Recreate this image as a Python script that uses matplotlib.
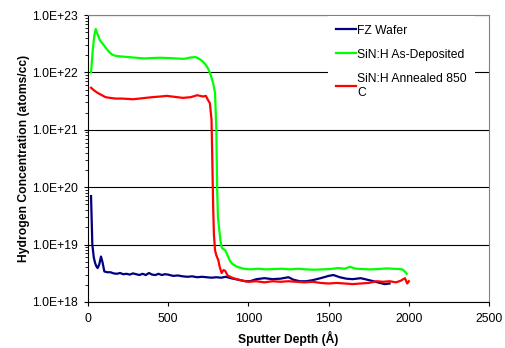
import numpy as np
import matplotlib.pyplot as plt
from matplotlib.ticker import FixedLocator, FuncFormatter, LogLocator, NullFormatter

plt.rcParams["font.family"] = ["Liberation Sans", "DejaVu Sans"]

# FZ wafer profile (depth in Angstrom, concentration in atoms/cc)
fz_depth = [19, 27, 36, 44, 52, 60, 70, 81, 90, 102, 120, 140, 160, 180, 200,
            220, 240, 260, 280, 300, 320, 340, 360, 380, 400, 420, 440, 460,
            480, 500, 530, 560, 590, 620, 650, 680, 710, 740, 770, 800, 830,
            860, 890, 920, 950, 980, 1010, 1050, 1100, 1150, 1200, 1250, 1280,
            1320, 1360, 1400, 1450, 1500, 1530, 1570, 1610, 1650, 1700, 1740,
            1780, 1820, 1850, 1880]
fz_conc = [7.0e19, 1.0e19, 6.0e18, 4.8e18, 4.2e18, 3.9e18, 4.5e18, 6.2e18,
           5.0e18, 3.4e18, 3.3e18, 3.3e18, 3.15e18, 3.1e18, 3.2e18, 3.05e18,
           3.1e18, 3.0e18, 3.15e18, 3.05e18, 2.95e18, 3.1e18, 2.95e18, 3.2e18,
           3.0e18, 2.95e18, 3.1e18, 2.95e18, 3.05e18, 3.0e18, 2.85e18, 2.9e18,
           2.8e18, 2.75e18, 2.8e18, 2.7e18, 2.75e18, 2.7e18, 2.65e18, 2.7e18,
           2.65e18, 2.75e18, 2.6e18, 2.5e18, 2.4e18, 2.3e18, 2.3e18, 2.5e18,
           2.6e18, 2.5e18, 2.55e18, 2.7e18, 2.45e18, 2.3e18, 2.3e18, 2.4e18,
           2.6e18, 2.85e18, 2.95e18, 2.7e18, 2.55e18, 2.5e18, 2.6e18, 2.45e18,
           2.3e18, 2.15e18, 2.05e18, 2.1e18]

# SiN:H as-deposited
dep_depth = [19, 30, 40, 48, 60, 75, 90, 110, 130, 150, 170, 200, 250, 300,
             350, 400, 450, 500, 550, 600, 640, 670, 690, 710, 730, 750, 765,
             780, 792, 800, 805, 810, 817, 825, 833, 840, 855, 870, 885, 900,
             930, 970, 1010, 1060, 1110, 1160, 1210, 1260, 1310, 1360, 1410,
             1460, 1510, 1560, 1600, 1633, 1670, 1710, 1760, 1810, 1860, 1900,
             1940, 1960, 1975, 1987]
dep_conc = [1.0e22, 2.5e22, 4.5e22, 5.7e22, 4.6e22, 3.6e22, 3.2e22, 2.7e22,
            2.3e22, 2.05e22, 1.95e22, 1.9e22, 1.85e22, 1.8e22, 1.75e22,
            1.78e22, 1.8e22, 1.78e22, 1.75e22, 1.72e22, 1.82e22, 1.85e22,
            1.75e22, 1.6e22, 1.4e22, 1.15e22, 9.0e21, 6.5e21, 4.4e21, 1.0e21,
            1.0e20, 3.0e19, 2.0e19, 1.2e19, 9.0e18, 8.5e18, 8.0e18, 6.5e18,
            5.2e18, 4.6e18, 4.1e18, 3.8e18, 3.7e18, 3.8e18, 3.7e18, 3.75e18,
            3.8e18, 3.7e18, 3.8e18, 3.7e18, 3.65e18, 3.7e18, 3.75e18, 3.9e18,
            3.8e18, 4.1e18, 3.8e18, 3.75e18, 3.7e18, 3.75e18, 3.85e18, 3.8e18,
            3.75e18, 3.7e18, 3.4e18, 3.1e18]

# SiN:H annealed 850 C
ann_depth = [19, 40, 60, 80, 110, 137, 170, 210, 250, 280, 320, 360, 400,
             450, 490, 540, 592, 640, 680, 700, 717, 735, 748, 760, 770, 775,
             780, 785, 792, 800, 812, 822, 833, 845, 855, 870, 905, 950, 1000,
             1050, 1100, 1150, 1200, 1250, 1300, 1350, 1400, 1450, 1500, 1550,
             1600, 1650, 1700, 1750, 1800, 1840, 1880, 1920, 1950, 1976, 1990,
             2000]
ann_conc = [5.4e21, 4.8e21, 4.4e21, 4.1e21, 3.7e21, 3.6e21, 3.5e21, 3.5e21,
            3.45e21, 3.4e21, 3.5e21, 3.6e21, 3.7e21, 3.8e21, 3.9e21, 3.75e21,
            3.6e21, 3.7e21, 4.0e21, 3.9e21, 3.8e21, 3.9e21, 3.3e21, 2.9e21,
            1.5e21, 3.0e20, 5.0e19, 1.5e19, 8.0e18, 6.5e18, 5.4e18, 4.0e18,
            3.2e18, 3.6e18, 3.5e18, 2.9e18, 2.6e18, 2.4e18, 2.25e18, 2.3e18,
            2.2e18, 2.3e18, 2.25e18, 2.3e18, 2.25e18, 2.2e18, 2.25e18, 2.15e18,
            2.1e18, 2.15e18, 2.1e18, 2.05e18, 2.1e18, 2.15e18, 2.3e18, 2.25e18,
            2.3e18, 2.2e18, 2.35e18, 2.6e18, 2.1e18, 2.3e18]

series_labels = ["FZ Wafer", "SiN:H As-Deposited", "SiN:H Annealed 850\nC"]
x_ticks = [0, 500, 1000, 1500, 2000, 2500]
y_ticks = [1e18, 1e19, 1e20, 1e21, 1e22, 1e23]

fs = 8.7

fig = plt.figure(figsize=(5.05, 3.48), dpi=100)
ax = fig.add_axes([88 / 505, 1 - 302 / 348, 401 / 505, 287 / 348])

ax.plot(fz_depth, fz_conc, color="#000080", linewidth=1.6, label=series_labels[0])
ax.plot(dep_depth, dep_conc, color="#00FF00", linewidth=1.6, label=series_labels[1])
ax.plot(ann_depth, ann_conc, color="#FF0000", linewidth=1.6, label=series_labels[2])

ax.set_yscale("log")
ax.set_ylim(1e18, 1e23)
ax.set_xlim(0, 2500)
ax.xaxis.set_major_locator(FixedLocator(x_ticks))
ax.yaxis.set_major_locator(FixedLocator(y_ticks))
ax.yaxis.set_minor_locator(LogLocator(base=10, subs=np.arange(2, 10)))
ax.yaxis.set_minor_formatter(NullFormatter())


def sci_label(v, pos):
    return "1.0E+%d" % round(np.log10(v))


ax.yaxis.set_major_formatter(FuncFormatter(sci_label))

ax.grid(True, axis="y", which="major", color="black", linewidth=0.8)
ax.set_axisbelow(True)

ax.tick_params(axis="both", which="major", direction="out", length=3, width=0.8,
               labelsize=fs, colors="black")
ax.tick_params(axis="y", which="major", pad=4.5)
ax.tick_params(axis="x", which="major", pad=5)
ax.tick_params(axis="y", which="minor", direction="out", length=2, width=0.6)
ax.tick_params(top=False, right=False)

for side in ["top", "right"]:
    ax.spines[side].set_color("#808080")
for side in ["left", "bottom"]:
    ax.spines[side].set_color("black")
    ax.spines[side].set_linewidth(0.8)

ax.set_xlabel("Sputter Depth (Å)", fontsize=fs, fontweight="bold", labelpad=4)
ax.set_ylabel("Hydrogen Concentration (atoms/cc)", fontsize=fs,
              fontweight="bold", labelpad=1.5)

leg = ax.legend(loc="upper left", bbox_to_anchor=(0.598, 0.996), fontsize=fs,
                frameon=True, fancybox=False, edgecolor="none", facecolor="white",
                framealpha=1, handlelength=1.6, handletextpad=0.15,
                labelspacing=1.0, borderpad=0.7, borderaxespad=0)

fig.savefig("out.png", dpi=100)
